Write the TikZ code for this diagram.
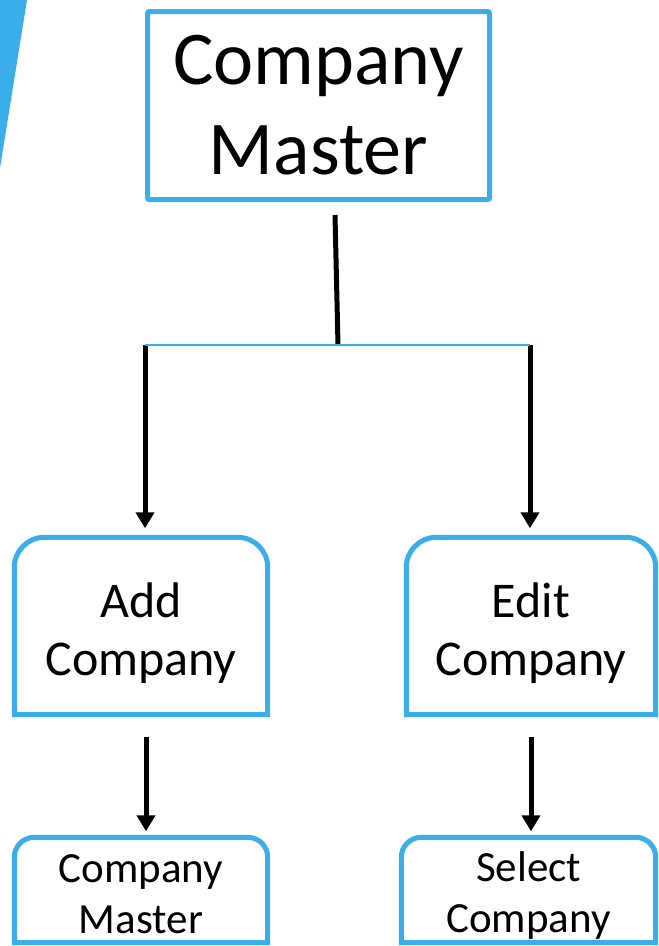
\documentclass[tikz,border=0pt]{standalone}
\usepackage{fontspec}
\setmainfont{Carlito}
\usepackage{tikz}
\usetikzlibrary{calc, arrows.meta}
\usepackage{xcolor}
\definecolor{skyblue}{RGB}{59,174,234}

\begin{document}
\begin{tikzpicture}[x=1pt, y=-1pt,
		masterbox/.style={draw=skyblue, line width=5pt, rounded corners=2pt, minimum width=342pt, minimum height=188pt, inner sep=0pt, align=center, font=\fontsize{76}{90}\selectfont},
		panel/.style={minimum height=177pt, inner sep=0pt},
		leaf/.style={minimum height=105pt, inner sep=0pt},
		midtext/.style={align=center, inner sep=0pt, font=\fontsize{50}{58}\selectfont},
		lowtext/.style={align=center, inner sep=0pt, font=\fontsize{43}{51}\selectfont},
		rim/.style={draw=skyblue, line width=5pt, line cap=rect},
		arr/.style={line width=5pt, -{Triangle[length=16pt,width=18pt]}}]
		\useasboundingbox (0,0) rectangle (659,946);
		% corner slash
		\fill[skyblue] (0,0) -- (27,0) -- (0,168) -- cycle;
		% top
		\node[masterbox] (master) at (318.5,105.5) {Company\\Master};
		% middle row
		\node[panel, minimum width=253pt] (add) at (141,626) {};
		\node[panel, minimum width=249pt] (edit) at (531,626) {};
		\node[midtext] (addtxt) at ([yshift=-7pt]add) {Add\\Company};
		\node[midtext] (edittxt) at ([yshift=-7pt]edit) {Edit\\Company};
		% bottom row
		\node[leaf, minimum width=253pt] (cm) at (141,890) {};
		\node[leaf, minimum width=254pt] (sel) at (528.5,890) {};
		\node[lowtext] (cmtxt) at ([yshift=-4pt]cm) {Company\\Master};
		\node[lowtext] (seltxt) at ([yshift=-6pt]sel) {Select\\Company};
		% outlines, round on top only
		\foreach \b/\r in {add/30, edit/30, cm/20, sel/20} {
			\draw[rim, rounded corners=\r pt] (\b.south west) -- (\b.north west) -- (\b.north east) -- (\b.south east);
			\draw[rim] (\b.south west) -- (\b.south east);
		}
		% fork
		\coordinate (stem) at (335,215);
		\coordinate (fork) at (338,345);
		\coordinate (forkl) at (145,345);
		\coordinate (forkr) at (530,345);
		\draw[line width=5pt] (stem) -- (fork);
		\draw[arr, shorten >=9pt] (forkl) -- (forkl |- add.north);
		\draw[arr, shorten >=9pt] (forkr) -- (forkr |- edit.north);
		\draw[skyblue, line width=2pt] (forkl) -- (forkr);
		% down to the leaves
		\draw[arr, shorten <=22pt, shorten >=6pt] ([xshift=5pt]add.south) -- ([xshift=5pt]cm.north);
		\draw[arr, shorten <=22pt, shorten >=6pt] (edit.south) -- (edit.south |- sel.north);
	\end{tikzpicture}
\end{document}
